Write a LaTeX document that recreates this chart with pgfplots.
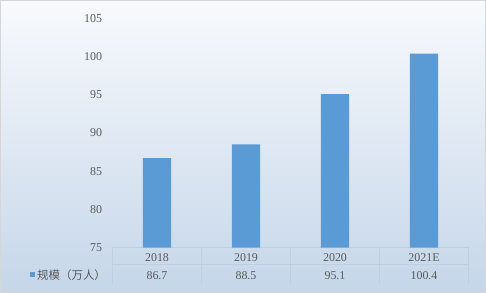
\documentclass[border=0pt]{standalone}
\usepackage{pgfplots}
\pgfplotsset{compat=1.18}
\usepackage{fontspec}
\setmainfont{Liberation Serif}
\newfontfamily\cjk{Noto Sans CJK SC}
\definecolor{barblue}{HTML}{5B9BD5}
\definecolor{txt}{HTML}{595959}
\definecolor{gridc}{HTML}{BECFE3}
\definecolor{bgtop}{HTML}{F8FAFD}
\definecolor{bgbot}{HTML}{C5D6E9}
\begin{document}
\begin{tikzpicture}
\shade[top color=bgtop, bottom color=bgbot] (0bp,0bp) rectangle (486bp,293bp);
\draw[color=black!16, line width=1bp] (0.5bp,0.5bp) rectangle (485.5bp,292.5bp);
% table lines
\foreach \k in {0,1,2,3,4} {
  \draw[gridc, line width=0.6bp] ({112.5bp+89*\k bp},45.5bp) -- ({112.5bp+89*\k bp},9bp);
}
\draw[gridc, line width=0.6bp] (112.5bp,45.5bp) -- (468.5bp,45.5bp);
\draw[gridc, line width=0.6bp] (112.5bp,28.5bp) -- (468.5bp,28.5bp);
\begin{axis}[
  at={(112.5bp,45.5bp)}, anchor=south west,
  scale only axis, width=356bp, height=229bp,
  xmin=-0.5, xmax=3.5, ymin=75, ymax=105,
  ytick={75,80,...,105},
  xtick={0,1,2,3},
  xticklabels={{2018\\86.7},{2019\\88.5},{2020\\95.1},{2021E\\100.4}},
  xticklabel style={align=center, font=\fontsize{12}{18}\selectfont, text=txt, inner sep=0pt, yshift=-6bp},
  yticklabel style={font=\fontsize{12}{14}\selectfont, text=txt, xshift=-7bp},
  /pgf/number format/assume math mode=true,
  axis line style={draw=none},
  major tick length=0pt,
  ybar, bar width=0.315,
  bar shift=0pt,
]
\addplot[fill=barblue, draw=none] coordinates {(0,86.7) (1,88.5) (2,95.1) (3,100.4)};
\end{axis}
\fill[barblue] (30bp,16bp) rectangle (35bp,21bp);
\node[anchor=west, inner sep=0pt, text=txt, font=\cjk\fontsize{11.5}{13}\selectfont] at (37bp,17.5bp) {规模（万人）};
\end{tikzpicture}
\end{document}
